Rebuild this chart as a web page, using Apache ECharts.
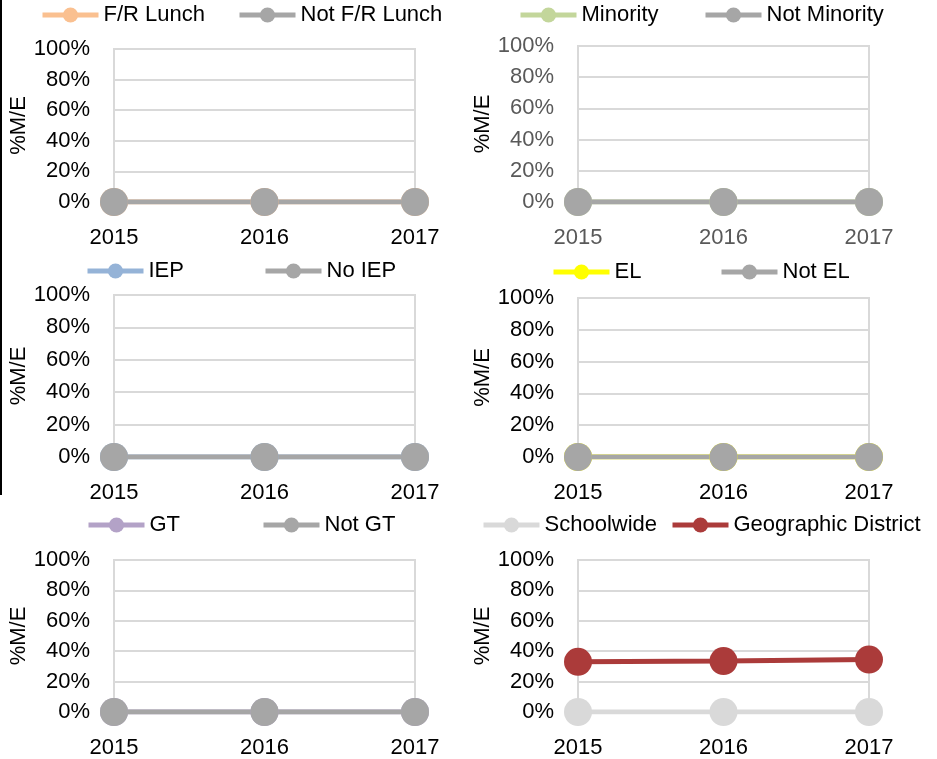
<!DOCTYPE html>
<html>
<head>
<meta charset="utf-8">
<script src="https://cdn.jsdelivr.net/npm/echarts@6/dist/echarts.min.js"></script>
<style>
  html, body { margin: 0; padding: 0; background: #fff; }
  #chart { width: 937px; height: 759px; }
</style>
</head>
<body>
<div id="chart"></div>
<script>
const years = ['2015', '2016', '2017']
const yTicks = [0, 20, 40, 60, 80, 100]

// % meeting / exceeding, per group
const frLunch = [0, 0, 0]
const notFrLunch = [0, 0, 0]
const minority = [0, 0, 0]
const notMinority = [0, 0, 0]
const iep = [0, 0, 0]
const noIep = [0, 0, 0]
const el = [0, 0, 0]
const notEl = [0, 0, 0]
const gt = [0, 0, 0]
const notGt = [0, 0, 0]
const schoolwide = [0, 0, 0]
const geoDistrict = [33, 33.5, 34.5]

const FONT = "'Liberation Sans', Arial, sans-serif"
const FS = 22

const panels = [
  {grid: {left: 114, top: 49, width: 301, height: 153}, labelColor: '#000', nameGap: 66,
    items: [
      {name: 'F/R Lunch', data: frLunch, color: '#FAC090', legendLeft: 40},
      {name: 'Not F/R Lunch', data: notFrLunch, color: '#A6A6A6', legendLeft: 237},
    ], legendY: 15},
  {grid: {left: 578, top: 46, width: 291, height: 156}, labelColor: '#595959', nameGap: 61,
    items: [
      {name: 'Minority', data: minority, color: '#C3D69B', legendLeft: 518},
      {name: 'Not Minority', data: notMinority, color: '#A6A6A6', legendLeft: 703},
    ], legendY: 15},
  {grid: {left: 114, top: 295, width: 301, height: 162}, labelColor: '#000', nameGap: 66,
    items: [
      {name: 'IEP', data: iep, color: '#95B3D7', legendLeft: 85},
      {name: 'No IEP', data: noIep, color: '#A6A6A6', legendLeft: 263},
    ], legendY: 271},
  {grid: {left: 578, top: 298, width: 291, height: 159}, labelColor: '#000', nameGap: 61,
    items: [
      {name: 'EL', data: el, color: '#FFFF00', legendLeft: 551},
      {name: 'Not EL', data: notEl, color: '#A6A6A6', legendLeft: 719},
    ], legendY: 272},
  {grid: {left: 114, top: 560, width: 301, height: 152}, labelColor: '#000', nameGap: 66,
    items: [
      {name: 'GT', data: gt, color: '#B3A2C7', legendLeft: 86},
      {name: 'Not GT', data: notGt, color: '#A6A6A6', legendLeft: 261},
    ], legendY: 525},
  {grid: {left: 578, top: 560, width: 291, height: 152}, labelColor: '#000', nameGap: 61,
    items: [
      {name: 'Schoolwide', data: schoolwide, color: '#D9D9D9', legendLeft: 481},
      {name: 'Geographic District', data: geoDistrict, color: '#AB3B3A', legendLeft: 670},
    ], legendY: 525},
]

const grid = []
const xAxis = []
const yAxis = []
const series = []
const legend = []

panels.forEach((p, i) => {
  grid.push(Object.assign({
    show: true,
    borderColor: '#D9D9D9',
    borderWidth: 2,
    containLabel: false,
  }, p.grid))

  xAxis.push({
    type: 'category',
    gridIndex: i,
    data: years,
    boundaryGap: false,
    axisLine: {show: false},
    axisTick: {show: false},
    axisLabel: {color: p.labelColor, fontSize: FS, fontFamily: FONT, margin: 25},
  })

  yAxis.push({
    type: 'value',
    gridIndex: i,
    min: yTicks[0],
    max: yTicks[yTicks.length - 1],
    interval: 20,
    name: '%M/E',
    nameLocation: 'middle',
    nameGap: p.nameGap,
    nameTextStyle: {color: '#000', fontSize: FS, fontFamily: FONT},
    axisLine: {show: false},
    axisTick: {show: false},
    axisLabel: {color: p.labelColor, fontSize: FS, fontFamily: FONT, margin: 24, formatter: '{value}%'},
    splitLine: {lineStyle: {color: '#D9D9D9', width: 2}},
  })

  p.items.forEach((it) => {
    series.push({
      name: it.name,
      type: 'line',
      xAxisIndex: i,
      yAxisIndex: i,
      data: it.data,
      symbol: 'circle',
      symbolSize: 28,
      showAllSymbol: true,
      lineStyle: {color: it.color, width: 5},
      itemStyle: {color: it.color},
      emphasis: {disabled: true},
      animation: false,
    })
    legend.push({
      data: [it.name],
      left: it.legendLeft,
      top: p.legendY - 13,
      padding: 0,
      itemWidth: 56,
      itemHeight: 19,
      lineStyle: {width: 5},
      textStyle: {color: '#000', fontSize: FS, fontFamily: FONT, lineHeight: 26},
      selectedMode: false,
    })
  })
})

const chart = echarts.init(document.getElementById('chart'))
chart.setOption({
  backgroundColor: '#fff',
  animation: false,
  grid: grid,
  xAxis: xAxis,
  yAxis: yAxis,
  legend: legend,
  series: series,
  graphic: [{
    type: 'line',
    shape: {x1: 1, y1: 0, x2: 1, y2: 495},
    style: {stroke: '#000', lineWidth: 2},
  }],
})
</script>
</body>
</html>
